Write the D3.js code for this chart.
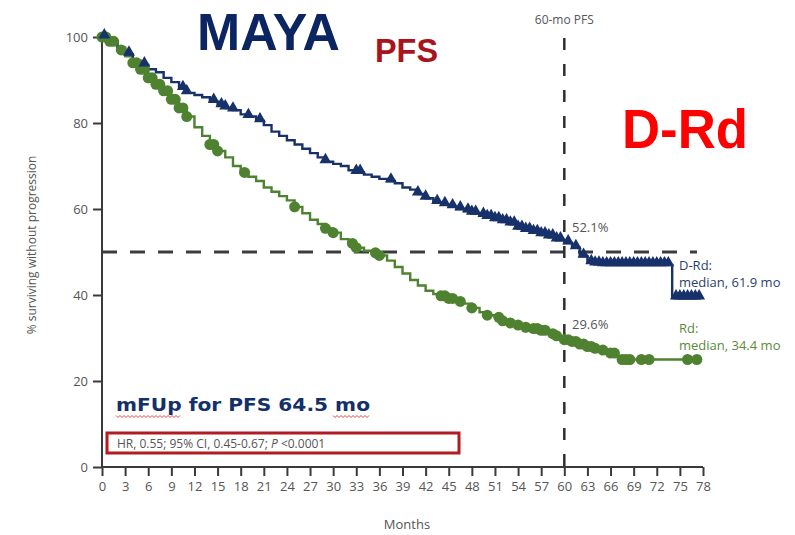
<!DOCTYPE html>
<html>
<head>
<meta charset="utf-8">
<script src="https://cdn.jsdelivr.net/npm/d3@7"></script>
<style>
  html, body { margin: 0; padding: 0; background: #fff; }
  svg { display: block; font-family: "Open Sans", sans-serif; }
</style>
</head>
<body>
<svg id="chart" width="795" height="535"></svg>
<script>
// D-Rd step curve: [month, % progression-free]
const drdCurve = [
  [0, 100], [1, 99], [2, 97.5], [3, 96], [4, 94.5], [5, 93.5], [6, 92.5], [7, 91.8], [8, 90.5], [9, 89.5],
  [10, 88], [11, 87], [12, 86.5], [13, 86], [14, 85], [15, 84], [16, 83.5], [17, 83], [18, 82], [19, 81.5],
  [20, 80.5], [21, 79.5], [22, 78], [23, 77], [24, 76], [25, 75], [26, 74], [27, 73], [28, 72], [29, 71],
  [30, 70.5], [31, 70], [32, 69], [33, 68.5], [34, 68], [35, 67.5], [36, 67], [37, 66.5], [38, 66], [39, 65],
  [40, 64.5], [41, 63.5], [42, 62.5], [43, 61.5], [44, 61], [45, 60.5], [46, 60], [47, 59.5], [48, 59], [49, 58.5],
  [50, 58], [51, 57.5], [52, 57], [53, 56.5], [54, 55.5], [55, 55], [56, 54.5], [57, 54], [58, 53.5], [59, 52.8],
  [60, 52.1], [61, 51], [62, 49], [63, 47.5], [64, 47.2], [65, 47], [74, 39.3], [77.7, 39.3]
];
// Rd step curve
const rdCurve = [
  [0, 100], [1, 99], [2, 97], [3, 95.5], [4, 94], [5, 92.5], [6, 90.5], [7, 89], [8, 87.5], [9, 85.5],
  [10, 83.5], [11, 81.5], [12, 79], [13, 77], [14, 75], [15, 73.5], [16, 72], [17, 70], [18, 68.5], [19, 67.5],
  [20, 66.5], [21, 65], [22, 64], [23, 63], [24, 62], [25, 60.5], [26, 59], [27, 57.5], [28, 56.5], [29, 55.5],
  [30, 54.5], [31, 53], [32, 52], [33, 51], [34, 50.3], [35, 49.8], [36, 49.2], [37, 48], [38, 46.5], [39, 45],
  [40, 43.5], [41, 42.2], [42, 41], [43, 40.2], [44, 39.8], [45, 39.2], [46, 38.5], [47, 38], [48, 37], [49, 36],
  [50, 35.3], [51, 34.8], [52, 34], [53, 33.5], [54, 33], [55, 32.5], [56, 32.2], [57, 31.8], [58, 31], [59, 30.5],
  [60, 29.6], [61, 29.2], [62, 28.6], [63, 28], [64, 27.6], [65, 27.2], [66, 26.5], [67, 25], [77.7, 25]
];
// censor marks (months)
const drdCensor = [0.3, 3.5, 5.5, 10.5, 11, 14.5, 15.5, 16, 17, 19, 20.5, 29, 33, 33.5, 37.5, 41, 42, 43.5, 44.5,
  45.5, 46.5, 47.5, 48, 48.5, 49.5, 50, 50.5, 51, 51.5, 52, 52.5, 53, 53.5, 54, 54.5, 55, 55.5, 56, 56.5, 57,
  57.5, 58, 58.5, 59, 59.5, 60.5, 61.5, 62.5, 63.5, 64, 64.5, 65, 65.5, 66, 66.5, 67, 67.5, 68, 68.5, 69, 69.5,
  70, 70.5, 71, 71.5, 72, 72.5, 73, 73.5, 74.5, 75, 75.5, 76, 76.5, 77, 77.5];
const rdCensor = [0, 0.5, 1, 1.5, 2.5, 4, 4.5, 5, 5.5, 6, 6.5, 7, 7.5, 8, 8.5, 9, 9.5, 10, 10.5, 11, 14, 14.5, 15,
  18.5, 25, 29, 30, 32.5, 33, 35.5, 36, 44, 44.5, 45, 45.5, 46.5, 48, 50, 51.5, 52, 53, 54, 55, 56, 56.5, 57, 57.5,
  58.5, 59, 60, 60.5, 61, 61.5, 62, 62.5, 63, 63.5, 64, 65, 66, 66.5, 67.5, 68, 68.5, 70, 71, 76, 77.2];

const xTicks = d3.range(0, 79, 3);
const yTicks = [0, 20, 40, 60, 80, 100];

const navy = '#17326a';
const green = '#4f8230';
const axisGray = '#3a3a3a';
const textGray = '#555';

const svg = d3.select('#chart');
const x = d3.scaleLinear().domain([0, 78]).range([102, 703]);
const y = d3.scaleLinear().domain([0, 100]).range([467, 37]);

// value of a step curve at time t
const valueAt = (curve, t) => {
  let v = curve[0][1];
  for (const p of curve) { if (p[0] <= t) v = p[1]; else break; }
  return v;
};

// axes
const yAxis = svg.append('g').attr('transform', 'translate(102,0)')
  .call(d3.axisLeft(y).tickValues(yTicks).tickSize(9).tickPadding(5));
const xAxis = svg.append('g').attr('transform', 'translate(0,467)')
  .call(d3.axisBottom(x).tickValues(xTicks).tickSize(9).tickPadding(6));
[yAxis, xAxis].forEach(g => {
  g.select('.domain').attr('stroke', axisGray).attr('stroke-width', 2);
  g.selectAll('.tick line').attr('stroke', axisGray).attr('stroke-width', 2);
  g.selectAll('.tick text').attr('fill', textGray).style('font-size', '13px').style('font-family', '"Open Sans", sans-serif');
});
xAxis.select('.domain').attr('d', `M${x(0)},0H${x(78)}`);
yAxis.select('.domain').attr('d', `M0,${y(0)}V${y(100)}`);

svg.append('text').attr('x', 407).attr('y', 529).attr('text-anchor', 'middle')
  .attr('fill', textGray).style('font-size', '13px').text('Months');
svg.append('text').attr('transform', 'translate(36,245) rotate(-90)').attr('text-anchor', 'middle')
  .attr('fill', textGray).style('font-size', '12px').text('% surviving without progression');

// reference lines
svg.append('line').attr('x1', x(0)).attr('x2', 697).attr('y1', y(50)).attr('y2', y(50))
  .attr('stroke', '#3c3c3c').attr('stroke-width', 3).attr('stroke-dasharray', '15,13');
svg.append('line').attr('x1', x(60)).attr('x2', x(60)).attr('y1', 38).attr('y2', y(0))
  .attr('stroke', '#2e2e2e').attr('stroke-width', 2.5).attr('stroke-dasharray', '12,14');
svg.append('text').attr('x', x(60)).attr('y', 24).attr('text-anchor', 'middle')
  .attr('fill', textGray).style('font-size', '12px').text('60-mo PFS');

// curves
const line = d3.line().x(d => x(d[0])).y(d => y(d[1])).curve(d3.curveStepAfter);
svg.append('path').datum(rdCurve).attr('d', line).attr('fill', 'none')
  .attr('stroke', green).attr('stroke-width', 2.4);
svg.append('path').datum(drdCurve).attr('d', line).attr('fill', 'none')
  .attr('stroke', navy).attr('stroke-width', 2.4);

// censor markers
svg.append('g').selectAll('circle').data(rdCensor).join('circle')
  .attr('cx', d => x(d)).attr('cy', d => y(valueAt(rdCurve, d)))
  .attr('r', 5.5).attr('fill', green);
const tri = d3.symbol().type(d3.symbolTriangle).size(62);
svg.append('g').selectAll('path').data(drdCensor).join('path')
  .attr('d', tri)
  .attr('transform', d => `translate(${x(d)},${y(valueAt(drdCurve, d)) - 2})`)
  .attr('fill', navy);

// annotations
const ann = [
  { t: '52.1%', x: 572, y: 232, c: textGray },
  { t: '29.6%', x: 572, y: 329, c: textGray },
  { t: 'D-Rd:', x: 679, y: 270, c: '#2b3f6b' },
  { t: 'median, 61.9 mo', x: 679, y: 287, c: '#2b3f6b' },
  { t: 'Rd:', x: 679, y: 333, c: '#5b8a3a' },
  { t: 'median, 34.4 mo', x: 679, y: 350, c: '#5b8a3a' }
];
svg.append('g').selectAll('text').data(ann).join('text')
  .attr('x', d => d.x).attr('y', d => d.y).attr('fill', d => d.c)
  .style('font-size', '13px').text(d => d.t);

// titles
svg.append('text').attr('x', 197).attr('y', 50).attr('fill', '#0b2462')
  .style('font-family', '"Liberation Sans", Arial, sans-serif').style('font-weight', 'bold')
  .style('font-size', '52px').attr('textLength', 143).attr('lengthAdjust', 'spacingAndGlyphs').text('MAYA');
svg.append('text').attr('x', 375).attr('y', 62).attr('fill', '#a8141c')
  .style('font-family', '"Liberation Sans", Arial, sans-serif').style('font-weight', 'bold')
  .style('font-size', '34px').attr('textLength', 63).attr('lengthAdjust', 'spacingAndGlyphs').text('PFS');
svg.append('text').attr('x', 622).attr('y', 148).attr('fill', '#ff0000')
  .style('font-family', '"Liberation Sans", Arial, sans-serif').style('font-weight', 'bold')
  .style('font-size', '55px').attr('textLength', 126).attr('lengthAdjust', 'spacingAndGlyphs').text('D-Rd');

// follow-up label with spell-check squiggles
svg.append('text').attr('x', 116).attr('y', 411).attr('fill', '#14306a')
  .style('font-family', '"DejaVu Sans", sans-serif').style('font-weight', 'bold')
  .style('font-size', '17px').attr('textLength', 254).attr('lengthAdjust', 'spacingAndGlyphs')
  .text('mFUp for PFS 64.5 mo');
const squiggle = (x0, x1, yy) => {
  const pts = [];
  for (let i = 0, xx = x0; xx <= x1; xx += 2, i++) pts.push([xx, yy + (i % 2 ? 1.5 : -0.5)]);
  svg.append('path').attr('d', d3.line()(pts)).attr('fill', 'none').attr('stroke', '#e03030').attr('stroke-width', 0.9);
};
squiggle(116, 180, 416);
squiggle(333, 370, 416);

// HR box
svg.append('rect').attr('x', 107).attr('y', 433).attr('width', 352).attr('height', 20)
  .attr('fill', 'none').attr('stroke', '#b01c22').attr('stroke-width', 3);
const hr = svg.append('text').attr('x', 117).attr('y', 448).attr('fill', textGray).style('font-size', '12px');
hr.append('tspan').text('HR, 0.55; 95% CI, 0.45-0.67; ');
hr.append('tspan').style('font-style', 'italic').text('P');
hr.append('tspan').text(' <0.0001');
</script>
</body>
</html>
